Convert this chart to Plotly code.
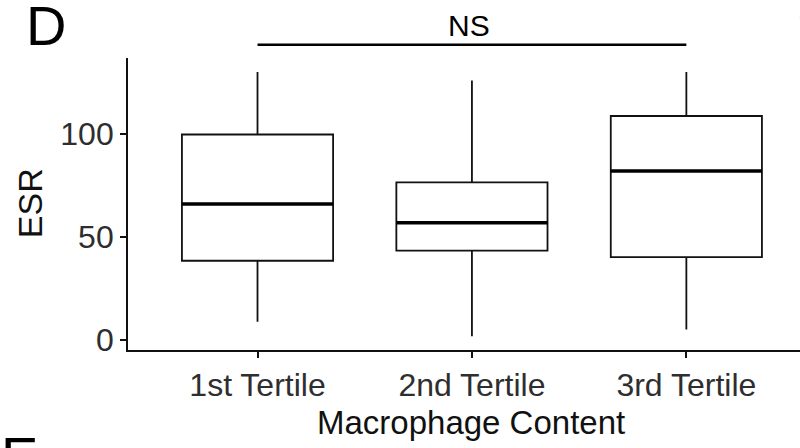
import plotly.graph_objects as go

categories = ["1st Tertile", "2nd Tertile", "3rd Tertile"]
lower_whisker = [8.6, 1.6, 4.9]
q1_values = [38.3, 43.2, 40.1]
median_values = [65.9, 56.8, 82.0]
q3_values = [99.7, 76.4, 108.7]
upper_whisker = [130.1, 125.9, 130.1]
y_ticks = [0, 50, 100]

FONT = "Liberation Sans, Arial, sans-serif"
BOX_W = 0.705

fig = go.Figure()
fig.add_trace(go.Box(
    x=categories,
    q1=q1_values,
    median=median_values,
    q3=q3_values,
    lowerfence=lower_whisker,
    upperfence=upper_whisker,
    fillcolor="white",
    line=dict(color="#111111", width=1.8),
    whiskerwidth=0,
    boxpoints=False,
    hoverinfo="skip",
    showlegend=False,
))

# thicker median lines (ggplot style)
for i, m in enumerate(median_values):
    fig.add_shape(type="line", xref="x", yref="y",
                  x0=i - BOX_W / 2, x1=i + BOX_W / 2, y0=m, y1=m,
                  line=dict(color="black", width=3.5))

# significance bracket from first to last group
fig.add_shape(type="line", xref="x", yref="paper",
              x0=0, x1=len(categories) - 1, y0=1.0455, y1=1.0455,
              line=dict(color="black", width=2.5))

fig.update_layout(
    width=800, height=448,
    margin=dict(l=128, r=0, t=58, b=98),
    plot_bgcolor="white", paper_bgcolor="white",
    boxgap=1 - BOX_W, boxgroupgap=0,
    font=dict(family=FONT, color="black"),
    xaxis=dict(
        type="category",
        range=[-0.604, 2.53],
        showline=True, linecolor="#111111", linewidth=1.8,
        ticks="outside", ticklen=6, tickwidth=1.6, tickcolor="#111111",
        tickfont=dict(size=32, color="#2e2e2e", family=FONT),
        showgrid=False, zeroline=False,
    ),
    yaxis=dict(
        range=[-5.1, 136.9],
        tickvals=y_ticks,
        showline=True, linecolor="#111111", linewidth=1.8,
        ticks="outside", ticklen=6, tickwidth=1.6, tickcolor="#111111",
        tickfont=dict(size=32, color="#2e2e2e", family=FONT),
        showgrid=False, zeroline=False,
    ),
    annotations=[
        dict(text="Macrophage Content", xref="paper", yref="paper",
             x=0.51, y=-0.2466, xanchor="center", yanchor="middle",
             showarrow=False, font=dict(size=33, color="#111111")),
        dict(text="ESR", xref="paper", yref="paper",
             x=-0.1458, y=0.503, xanchor="center", yanchor="middle",
             textangle=-90, showarrow=False, font=dict(size=34, color="#111111")),
        dict(text="NS", xref="paper", yref="paper",
             x=0.5074, y=1.1096, xanchor="center", yanchor="middle",
             showarrow=False, font=dict(size=30, color="black")),
        dict(text="D", xref="paper", yref="paper",
             x=-0.122, y=1.113, xanchor="center", yanchor="middle",
             showarrow=False, font=dict(size=56, color="black")),
        dict(text="E", xref="paper", yref="paper",
             x=-0.1927, y=-0.366, xanchor="left", yanchor="middle",
             showarrow=False, font=dict(size=56, color="black")),
        dict(text="C", xref="paper", yref="paper",
             x=0.995, y=1.137, xanchor="left", yanchor="middle",
             showarrow=False, font=dict(size=24, color="#555")),
    ],
)

fig.write_html("out.html", config={"displayModeBar": False},
               post_script="document.body.style.margin='0';")
